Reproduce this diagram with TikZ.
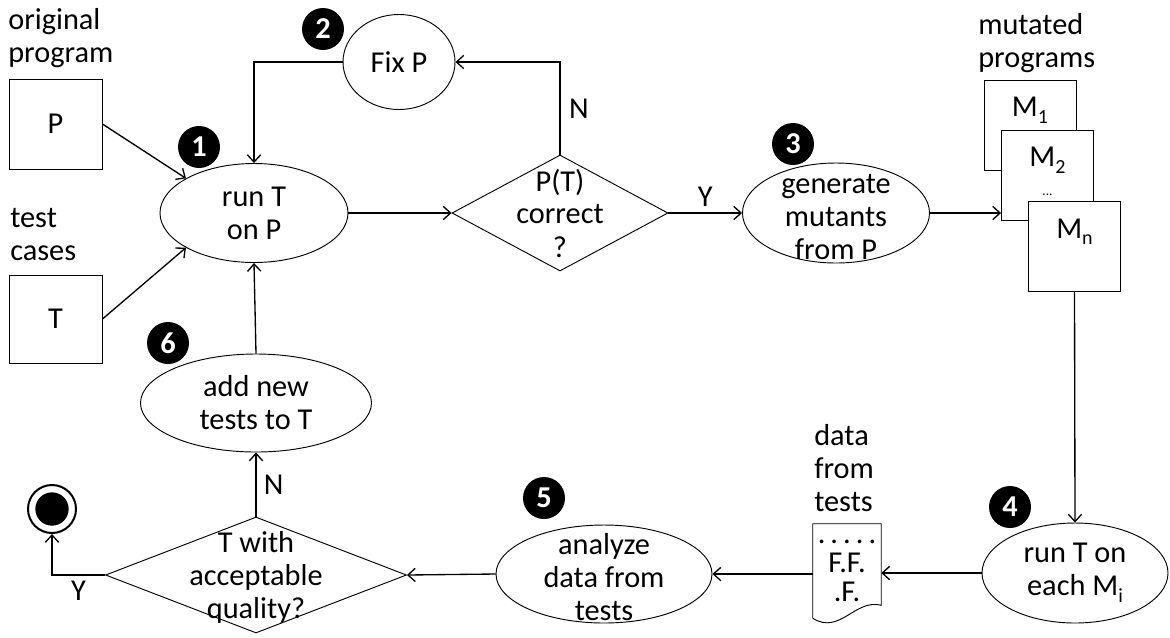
\documentclass[tikz,border=0pt]{standalone}
\usepackage{fontspec}
\setmainfont{Carlito}
\usetikzlibrary{positioning,arrows.meta,shapes.geometric,calc}
\newcommand{\msub}[1]{\raisebox{-0.45ex}{\fontsize{15}{15}\selectfont #1}}

\begin{document}
\begin{tikzpicture}[x=0.75pt, y=-0.75pt, >={Straight Barb[length=5.5pt,width=10pt]},
    font=\fontsize{22.75}{24.75}\selectfont,
    every label/.style={align=center, inner sep=0pt},
    box/.style={rectangle, draw, line width=0.7pt, fill=white, inner sep=0pt, minimum width=69.75pt, minimum height=67.5pt},
    task/.style={ellipse, draw, line width=0.7pt, inner sep=0pt},
    decision/.style={diamond, draw, line width=0.7pt, inner sep=0pt},
    badge/.style={circle, fill=black, text=white, inner sep=0pt, minimum size=31.5pt, font=\fontsize{22.75}{24}\selectfont\bfseries},
    note/.style={align=left, inner sep=0pt, anchor=west},
    mlab/.style={anchor=north, yshift=-13pt},
    flow/.style={->, line width=1pt}]
    \useasboundingbox (0,0) rectangle (1170,637);

    % inputs
    \node[note] (orignote) at (8,38) {original\\program};
    \node[box] (P) at (55.5,124) {P};
    \node[note] (testnote) at (10,235) {test\\cases};
    \node[box, minimum height=66pt] (T) at (55.5,319) {T};

    % top row
    \node[task, minimum width=141pt, minimum height=74.25pt, label={center:run T\\on P}] (run) at (254,213) {};
    \node[task, minimum width=84pt, minimum height=71.25pt] (fix) at (399,62) {Fix P};
    \node[decision, minimum width=162pt, minimum height=87pt, label={center:P(T)\\correct\\?}] (check) at (560,213) {};
    \node[task, minimum width=140.25pt, minimum height=75pt, label={[yshift=-3pt]center:generate\\mutants\\from P}] (gen) at (836,213) {};

    % mutants
    \node[note] (mutnote) at (978,43) {mutated\\programs};
    \node[box, minimum width=69pt, label={[mlab]north:M\msub{1}}] (M1) at (1030,125) {};
    \node[box, minimum width=69pt, label={[mlab]north:M\msub{2}},
        label={[yshift=-15pt, font=\fontsize{10}{10}\selectfont]center:...}] (M2) at (1047.5,175) {};
    \node[box, minimum width=69pt, label={[mlab]north:M\msub{n}}] (Mn) at (1074.5,246.5) {};

    % bottom row
    \node[task, minimum width=139.5pt, minimum height=75pt, label={center:run T on\\each M\msub{i}}] (runM) at (1075,573) {};
    \node[note] (datanote) at (814,468) {data\\from\\tests};
    \node[minimum width=51pt, minimum height=70.5pt, inner sep=0pt, align=center,
        font=\fontsize{22.75}{21.5}\selectfont] (data) at (847,571) {.\,.\,.\,.\,.\\F.F.\\.F.};
    \draw[line width=0.7pt] (data.south west) -- (data.north west) -- (data.north east)
        -- ($(data.south east)+(0,-13)$) .. controls +(-26,-7) and +(27,17) .. (data.south west);
    \node[task, minimum width=162pt, minimum height=73.5pt, label={[yshift=-2pt]center:analyze\\data from\\tests}] (analyze) at (604,574) {};
    \node[decision, minimum width=225.75pt, minimum height=87pt, label={[yshift=-2pt]center:T with\\acceptable\\quality?}] (quality) at (256,575) {};
    \node[task, minimum width=173.25pt, minimum height=73.5pt, label={center:add new\\tests to T}] (addtests) at (256,403) {};
    \node[circle, draw, line width=1.5pt, minimum size=36pt, inner sep=0pt] (endnode) at (52,509) {};
    \node[circle, fill=black, minimum size=25pt, inner sep=0pt] (enddot) at (endnode) {};

    % step numbers
    \node[badge] (b1) at (199,147) {1};
    \node[badge] (b2) at (323,29) {2};
    \node[badge] (b3) at (793,144) {3};
    \node[badge] (b4) at (1010,507) {4};
    \node[badge] (b5) at (544,498) {5};
    \node[badge] (b6) at (168,343) {6};

    \draw[flow] (P.east) -- (run.153);
    \draw[flow] (T.east) -- (run.207);
    \draw[flow] (run.east) -- (check.west);
    \draw[flow] (check.north) |- node[pos=0.25, right=3pt] {N} (fix.east);
    \draw[flow] (fix.west) -| (run.north);
    \draw[flow] (check.east) -- node[above=1pt] {Y} (gen.west);
    \draw[flow] (gen.east) -- (gen.east -| M2.west);
    \draw[flow] (Mn.south) -- (runM.north);
    \draw[flow] (runM.west) -- (runM.west -| data.east);
    \draw[flow] (data.west |- analyze.east) -- (analyze.east);
    \draw[flow] (analyze.west) -- (quality.east);
    \draw[flow] (quality.north) -- node[right=2pt] {N} (addtests.south);
    \draw[flow] (addtests.north) -- (run.south);
    \draw[flow] (quality.west) -| node[pos=0.25, below=1pt] {Y} (endnode.south);
\end{tikzpicture}
\end{document}
